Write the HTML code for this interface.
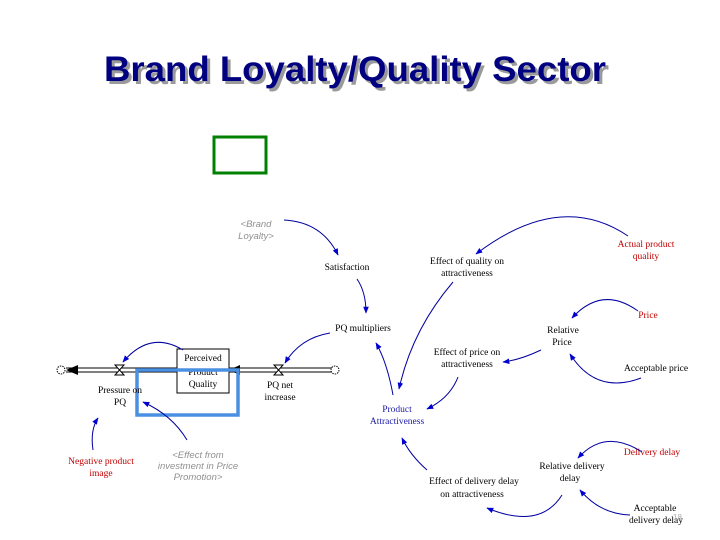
<!DOCTYPE html>
<html><head><meta charset="utf-8"><style>
html,body{margin:0;padding:0;background:#fff;}
svg{display:block;}
.s{font-family:"Liberation Serif",serif;font-size:9.5px;text-anchor:middle;fill:#000;}
.r{fill:#c00000;}
.b{fill:#1a1aa6;}
.g{font-family:"Liberation Sans",sans-serif;font-style:italic;font-size:9.5px;fill:#909090;text-anchor:middle;}
.a{fill:none;stroke:#0000a0;stroke-width:1;}
</style></head><body>
<svg width="720" height="540" viewBox="0 0 720 540" xmlns="http://www.w3.org/2000/svg">
<defs>
<marker id="m" viewBox="0 0 10 10" refX="9" refY="5" markerWidth="7" markerHeight="7" orient="auto-start-reverse" markerUnits="userSpaceOnUse">
<path d="M0,1 L10,5 L0,9 z" fill="#0000d0"/></marker>
</defs>
<text x="358" y="84" font-family="Liberation Sans,sans-serif" font-weight="bold" font-size="35" text-anchor="middle" fill="#9a9a9a" textLength="502" lengthAdjust="spacingAndGlyphs">Brand Loyalty/Quality Sector</text>
<text x="355" y="81" font-family="Liberation Sans,sans-serif" font-weight="bold" font-size="35" text-anchor="middle" fill="#000080" textLength="502" lengthAdjust="spacingAndGlyphs">Brand Loyalty/Quality Sector</text>

<rect x="214" y="137" width="52" height="36" fill="none" stroke="#008000" stroke-width="3"/>

<line x1="66" y1="368" x2="335" y2="368" stroke="#000" stroke-width="1"/>
<line x1="66" y1="372" x2="335" y2="372" stroke="#000" stroke-width="1"/>
<path d="M66,370 L78,365 L78,375 z" fill="#000"/>
<path d="M229,370 L240,365 L240,375 z" fill="#000"/>
<circle cx="61" cy="370" r="4" fill="#fff" stroke="#000" stroke-dasharray="1.5,1"/>
<circle cx="335" cy="370" r="4" fill="#fff" stroke="#000" stroke-dasharray="1.5,1"/>
<path d="M115,365 L124,365 L115,375 L124,375 z" fill="#fff" stroke="#000"/>
<path d="M274,365 L283,365 L274,375 L283,375 z" fill="#fff" stroke="#000"/>
<rect x="177" y="349" width="52" height="44" fill="#fff" stroke="#000"/>
<text class="s" x="203" y="361">Perceived</text>
<text class="s" x="203" y="375">Product</text>
<text class="s" x="203" y="387">Quality</text>
<rect x="137" y="370" width="101" height="45" fill="none" stroke="#4a90e2" stroke-width="3.5"/>
<text class="s" x="120" y="393">Pressure on</text>
<text class="s" x="120" y="405">PQ</text>
<text class="s" x="280" y="388">PQ net</text>
<text class="s" x="280" y="400">increase</text>

<text class="g" x="256" y="227">&lt;Brand</text>
<text class="g" x="256" y="239">Loyalty&gt;</text>
<text class="s" x="347" y="270">Satisfaction</text>
<text class="s" x="363" y="331">PQ multipliers</text>
<text class="s" x="467" y="264">Effect of quality on</text>
<text class="s" x="467" y="276">attractiveness</text>
<text class="s r" x="646" y="247">Actual product</text>
<text class="s r" x="646" y="259">quality</text>
<text class="s r" x="648" y="318">Price</text>
<text class="s" x="563" y="333">Relative</text>
<text class="s" x="562" y="345">Price</text>
<text class="s" x="656" y="371">Acceptable price</text>
<text class="s" x="467" y="355">Effect of price on</text>
<text class="s" x="467" y="367">attractiveness</text>
<text class="s b" x="397" y="412">Product</text>
<text class="s b" x="397" y="424">Attractiveness</text>
<text class="s r" x="652" y="455">Delivery delay</text>
<text class="s" x="572" y="469">Relative delivery</text>
<text class="s" x="570" y="481">delay</text>
<text class="s" x="655" y="511">Acceptable</text>
<text class="s" x="656" y="523">delivery delay</text>
<text x="673" y="520" font-family="Liberation Sans,sans-serif" font-size="8" fill="#aaa">18</text>
<text class="s" x="474" y="484">Effect of delivery delay</text>
<text class="s" x="472" y="497">on attractiveness</text>
<text class="s r" x="101" y="464">Negative product</text>
<text class="s r" x="101" y="476">image</text>
<text class="g" x="198" y="458">&lt;Effect from</text>
<text class="g" x="198" y="469">investment in Price</text>
<text class="g" x="198" y="480">Promotion&gt;</text>

<path class="a" marker-end="url(#m)" d="M284,220 Q322,222 338,255"/>
<path class="a" marker-end="url(#m)" d="M357,279 Q366,292 366,313"/>
<path class="a" marker-end="url(#m)" d="M330,333 Q300,338 285,363"/>
<path class="a" marker-end="url(#m)" d="M393,395 Q387,362 376,343"/>
<path class="a" marker-end="url(#m)" d="M453,282 Q412,330 399,389"/>
<path class="a" marker-end="url(#m)" d="M628,236 Q560,190 476,254"/>
<path class="a" marker-end="url(#m)" d="M638,311 Q602,285 572,318"/>
<path class="a" marker-end="url(#m)" d="M641,378 Q596,395 570,354"/>
<path class="a" marker-end="url(#m)" d="M541,350 Q520,360 503,362"/>
<path class="a" marker-end="url(#m)" d="M458,377 Q450,398 427,409"/>
<path class="a" marker-end="url(#m)" d="M642,452 Q605,428 578,458"/>
<path class="a" marker-end="url(#m)" d="M630,515 Q600,514 580,490"/>
<path class="a" marker-end="url(#m)" d="M562,495 Q540,530 487,508"/>
<path class="a" marker-end="url(#m)" d="M427,470 Q410,455 402,438"/>
<path class="a" marker-end="url(#m)" d="M93,450 Q90,430 98,418"/>
<path class="a" marker-end="url(#m)" d="M187,440 Q172,415 143,402"/>
<path class="a" marker-end="url(#m)" d="M183,350 Q150,330 123,362"/>
</svg>
</body></html>
